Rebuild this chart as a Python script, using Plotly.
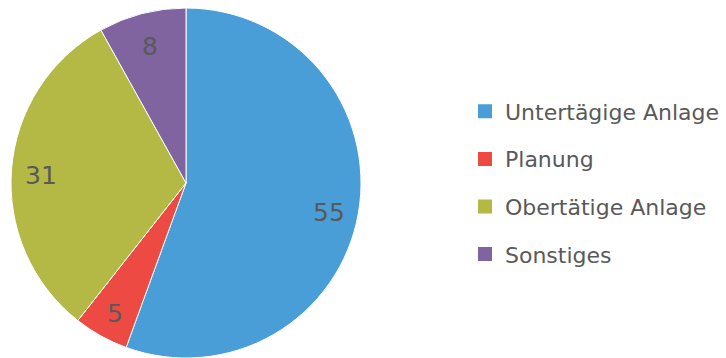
import math
import plotly.graph_objects as go

# Distribution by category
categories = ["Untertägige Anlage", "Planung", "Obertätige Anlage", "Sonstiges"]
values = [55, 5, 31, 8]
colors = ["#4A9ED7", "#EE4A44", "#B4B845", "#8064A0"]

W, H = 726, 358
M_T, M_B = 8, 0
dom_x = [10 / W, 362 / W]

fig = go.Figure()
fig.add_trace(go.Pie(
    labels=categories, values=values, sort=False, direction="clockwise",
    rotation=0, marker=dict(colors=colors, line=dict(color="white", width=1)),
    textinfo="none", hoverinfo="label+value", showlegend=False,
    domain=dict(x=dom_x, y=[0, 1]),
))

# Value labels placed at the mid-angle of each slice
plot_h = H - M_T - M_B
r = min((dom_x[1] - dom_x[0]) * W, plot_h) / 2
cx = (dom_x[0] + dom_x[1]) / 2 * W
cy = M_T + plot_h / 2
total = sum(values)
start = 0.0
for v in values:
    mid = (start + v / 2) / total * 2 * math.pi
    start += v
    f = 0.83
    px = cx + f * r * math.sin(mid)
    py = cy - f * r * math.cos(mid)
    fig.add_annotation(
        x=px / W, y=1 - (py - M_T) / plot_h, xref="paper", yref="paper",
        xanchor="center", yanchor="middle", yshift=-4,
        text=str(v), showarrow=False,
        font=dict(size=25, color="#595959", family="DejaVu Sans"),
    )

# Legend entries, one group each for wider row spacing
for name, c in zip(categories, colors):
    fig.add_trace(go.Scatter(
        x=[None], y=[None], mode="markers", name=name, legendgroup=name,
        marker=dict(symbol="square", size=14, color=c),
    ))

fig.update_layout(
    width=W, height=H,
    margin=dict(l=0, r=0, t=M_T, b=M_B),
    paper_bgcolor="white", plot_bgcolor="white",
    xaxis=dict(visible=False), yaxis=dict(visible=False),
    legend=dict(
        x=465 / W, y=0.5, xanchor="left", yanchor="middle",
        font=dict(size=22, color="#595959", family="DejaVu Sans"),
        tracegroupgap=16, itemclick=False, itemdoubleclick=False,
    ),
)

fig.write_html("out.html")
